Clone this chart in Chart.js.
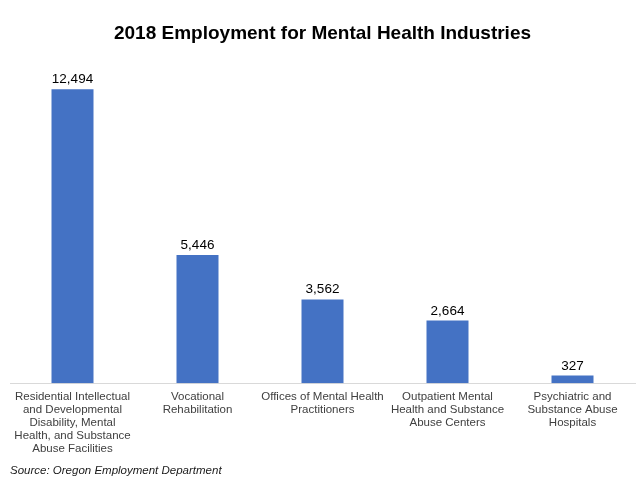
<!DOCTYPE html>
<html lang="en">
  <head>
    <meta charset="UTF-8" />
    <title>2018 Employment for Mental Health Industries</title>
    <script src="https://cdn.jsdelivr.net/npm/chart.js@4.4.0/dist/chart.umd.min.js"></script>
    <style>
      html, body { margin: 0; padding: 0; background: #fff; }
      .chart-container { position: relative; width: 640px; height: 486px; }
    </style>
  </head>
  <body>
    <div class="chart-container">
      <canvas id="chart"></canvas>
    </div>
    <script>
      const categories = [
        ["Residential Intellectual", "and Developmental", "Disability, Mental", "Health, and Substance", "Abuse Facilities"],
        ["Vocational", "Rehabilitation"],
        ["Offices of Mental Health", "Practitioners"],
        ["Outpatient Mental", "Health and Substance", "Abuse Centers"],
        ["Psychiatric and", "Substance Abuse", "Hospitals"],
      ];
      const employment = [12494, 5446, 3562, 2664, 327];

      const font = "'Liberation Sans', Arial, sans-serif";

      // value labels above each bar
      const valueLabels = {
        id: "valueLabels",
        afterDatasetsDraw(chart) {
          const { ctx } = chart;
          const meta = chart.getDatasetMeta(0);
          ctx.save();
          ctx.font = "13.5px " + font;
          ctx.fillStyle = "#000";
          ctx.textAlign = "center";
          ctx.textBaseline = "bottom";
          meta.data.forEach((bar, i) => {
            ctx.fillText(employment[i].toLocaleString("en-US"), bar.x, bar.y - 3);
          });
          ctx.restore();
        },
      };

      new Chart(document.getElementById("chart"), {
        type: "bar",
        data: {
          labels: categories,
          datasets: [
            {
              data: employment,
              backgroundColor: "#4472C4",
              barPercentage: 0.336,
              categoryPercentage: 1,
            },
          ],
        },
        options: {
          responsive: true,
          maintainAspectRatio: false,
          animation: false,
          layout: { padding: { left: 10, right: 5, top: 0, bottom: 4 } },
          plugins: {
            legend: { display: false },
            tooltip: { enabled: false },
            title: {
              display: true,
              text: "2018 Employment for Mental Health Industries",
              color: "#000",
              font: { family: font, size: 19, weight: "bold" },
              padding: { top: 22.5, bottom: 18 },
            },
            subtitle: {
              display: true,
              position: "bottom",
              align: "start",
              text: "Source: Oregon Employment Department",
              color: "#1a1a1a",
              font: { family: font, size: 11.5, style: "italic" },
              padding: { top: 2, bottom: 4 },
            },
          },
          scales: {
            x: {
              grid: { display: false, drawTicks: false },
              border: { color: "#d9d9d9" },
              ticks: {
                color: "#404040",
                font: { family: font, size: 11.5, lineHeight: 1.13 },
                maxRotation: 0,
                autoSkip: false,
                padding: 7,
              },
            },
            y: {
              display: false,
              min: 0,
              max: 13600,
            },
          },
        },
        plugins: [valueLabels],
      });
    </script>
  </body>
</html>
